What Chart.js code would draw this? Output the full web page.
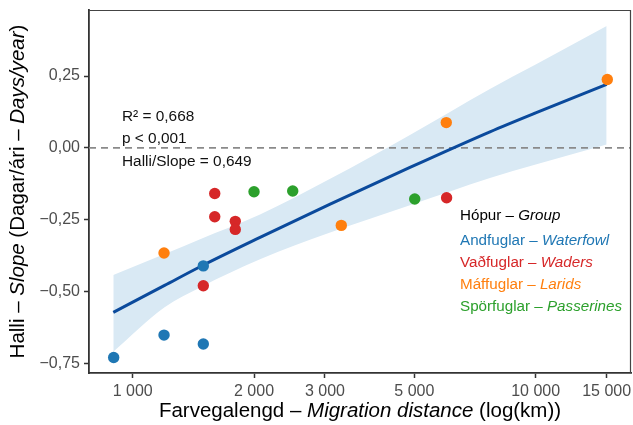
<!DOCTYPE html>
<html>
<head>
<meta charset="utf-8">
<script src="https://cdn.jsdelivr.net/npm/chart.js@4.4.1/dist/chart.umd.min.js"></script>
<style>
  html, body { margin: 0; padding: 0; background: #ffffff; }
  #wrap { width: 633px; height: 425px; }
</style>
</head>
<body>
<div id="wrap"><canvas id="migrationChart" width="633" height="425"></canvas></div>
<script>
// tick positions
const xTicks = [1000, 2000, 3000, 5000, 10000, 15000];
const yTicks = [-0.75, -0.5, -0.25, 0, 0.25];

// species per group: migration distance (km) and slope (days/year)
const waterfowlKm = [897, 1196, 1497, 1497];
const waterfowlSlope = [-0.730, -0.652, -0.683, -0.411];
const wadersKm = [1598, 1598, 1797, 1797, 1497, 6011];
const wadersSlope = [-0.159, -0.240, -0.256, -0.284, -0.480, -0.174];
const laridsKm = [1196, 3293, 6000, 15057];
const laridsSlope = [-0.366, -0.270, 0.088, 0.238];
const passerinesKm = [2000, 2495, 5010];
const passerinesSlope = [-0.153, -0.150, -0.178];

// regression line and confidence band
const fitKm = [895, 1200, 1470, 2070, 3090, 4875, 7700, 10000, 15000];
const fitLine = [-0.573, -0.479, -0.414, -0.312, -0.196, -0.068, 0.056, 0.122, 0.221];
const fitUpper = [-0.443, -0.370, -0.318, -0.232, -0.108, 0.045, 0.205, 0.290, 0.424];
const fitLower = [-0.710, -0.555, -0.486, -0.388, -0.295, -0.200, -0.105, -0.058, 0.012];

const statLines = ['R\u00b2 = 0,668', 'p < 0,001', 'Halli/Slope = 0,649'];

const cBlue = '#1f77b4';
const cRed = '#d62728';
const cOrange = '#ff7f0e';
const cGreen = '#2ca02c';
const fontFamily = '"Liberation Sans", Arial, Helvetica, sans-serif';

const groups = [
    { name: 'Andfuglar', eng: 'Waterfowl', color: cBlue, km: waterfowlKm, slope: waterfowlSlope },
    { name: 'Vaðfuglar', eng: 'Waders', color: cRed, km: wadersKm, slope: wadersSlope },
    { name: 'Máffuglar', eng: 'Larids', color: cOrange, km: laridsKm, slope: laridsSlope },
    { name: 'Spörfuglar', eng: 'Passerines', color: cGreen, km: passerinesKm, slope: passerinesSlope }
];

const xMin = 779, xMax = 17240;
const yMin = -0.784, yMax = 0.48;

function pairs(xs, ys) {
    return xs.map((x, i) => ({ x: x, y: ys[i] }));
}

function fontOf(italic, size) {
    return (italic ? 'italic ' : '') + size + 'px ' + fontFamily;
}

// draws a run of [text, italic] pieces; align 'center' or 'left'
function drawRich(ctx, parts, x, y, size, color, align) {
    let total = 0;
    parts.forEach(p => {
        ctx.font = fontOf(p[1], size);
        total += ctx.measureText(p[0]).width;
    });
    let cx = align === 'center' ? x - total / 2 : x;
    ctx.fillStyle = color;
    ctx.textAlign = 'left';
    ctx.textBaseline = 'middle';
    parts.forEach(p => {
        ctx.font = fontOf(p[1], size);
        ctx.fillText(p[0], cx, y);
        cx += ctx.measureText(p[0]).width;
    });
}

const textPlugin = {
    id: 'textPlugin',
    afterDraw(chart) {
        const ctx = chart.ctx;
        const area = chart.chartArea;
        ctx.save();

        // top and right frame lines
        ctx.strokeStyle = '#444444';
        ctx.lineWidth = 1.2;
        ctx.beginPath();
        ctx.moveTo(area.left, area.top + 0.5);
        ctx.lineTo(area.right - 0.5, area.top + 0.5);
        ctx.lineTo(area.right - 0.5, area.bottom);
        ctx.stroke();

        // axis titles
        drawRich(ctx, [['Farvegalengd \u2013 ', false], ['Migration distance', true], [' (log(km))', false]],
            (area.left + area.right) / 2, 411, 20.5, '#000000', 'center');
        ctx.save();
        ctx.translate(18, (area.top + area.bottom) / 2);
        ctx.rotate(-Math.PI / 2);
        drawRich(ctx, [['Halli \u2013 ', false], ['Slope', true], [' (Dagar/ári \u2013 ', false], ['Days/year', true], [')', false]],
            0, 0, 20.5, '#000000', 'center');
        ctx.restore();

        // regression statistics
        statLines.forEach((t, i) => {
            drawRich(ctx, [[t, false]], 122, 117 + i * 22.2, 15.4, '#111111', 'left');
        });

        // group legend
        drawRich(ctx, [['Hópur \u2013 ', false], ['Group', true]], 460, 216, 15.2, '#000000', 'left');
        groups.forEach((g, i) => {
            drawRich(ctx, [[g.name + ' \u2013 ', false], [g.eng, true]], 460, 240.5 + i * 22.2, 15.2, g.color, 'left');
        });
        ctx.restore();
    }
};

const pointSets = groups.map(g => ({
    label: g.name,
    data: pairs(g.km, g.slope),
    showLine: false,
    pointRadius: 5.7,
    pointHoverRadius: 5.7,
    pointBackgroundColor: g.color,
    pointBorderWidth: 0,
    order: 0
}));

new Chart(document.getElementById('migrationChart'), {
    type: 'line',
    data: {
        datasets: [
            ...pointSets,
            {
                label: 'fit',
                data: pairs(fitKm, fitLine),
                borderColor: '#0b4a9c',
                borderWidth: 3,
                pointRadius: 0,
                cubicInterpolationMode: 'monotone',
                fill: false,
                order: 1
            },
            {
                label: 'zero',
                data: [{ x: xMin, y: 0 }, { x: xMax, y: 0 }],
                borderColor: '#8a8a8a',
                borderWidth: 1.6,
                borderDash: [7, 5],
                pointRadius: 0,
                fill: false,
                order: 2
            },
            {
                label: 'upper',
                data: pairs(fitKm, fitUpper),
                borderWidth: 0,
                borderColor: 'rgba(0,0,0,0)',
                backgroundColor: '#d9e9f4',
                pointRadius: 0,
                cubicInterpolationMode: 'monotone',
                fill: { target: 7 },
                order: 3
            },
            {
                label: 'lower',
                data: pairs(fitKm, fitLower),
                borderWidth: 0,
                borderColor: 'rgba(0,0,0,0)',
                pointRadius: 0,
                cubicInterpolationMode: 'monotone',
                fill: false,
                order: 4
            }
        ]
    },
    options: {
        responsive: false,
        animation: false,
        layout: { autoPadding: false, padding: { left: 0, right: 2, top: 10, bottom: 0 } },
        plugins: {
            legend: { display: false },
            tooltip: { enabled: false }
        },
        scales: {
            x: {
                type: 'logarithmic',
                min: xMin,
                max: xMax,
                afterBuildTicks: scale => { scale.ticks = xTicks.map(v => ({ value: v })); },
                afterFit: scale => {
                    scale.height = 52;
                    scale.paddingLeft = 0;
                    scale.paddingRight = 0;
                },
                border: { display: true, color: '#333333', width: 1.8 },
                grid: { display: true, drawOnChartArea: false, drawTicks: true, tickLength: 5, tickColor: '#333333', tickWidth: 1.5 },
                ticks: {
                    color: '#4d4d4d',
                    font: { family: fontFamily, size: 16 },
                    padding: 4,
                    maxRotation: 0,
                    autoSkip: false,
                    callback: v => String(v).replace(/\B(?=(\d{3})+(?!\d))/g, ' ')
                }
            },
            y: {
                type: 'linear',
                min: yMin,
                max: yMax,
                afterBuildTicks: scale => { scale.ticks = yTicks.map(v => ({ value: v })); },
                afterFit: scale => {
                    scale.width = 89;
                    scale.paddingTop = 0;
                    scale.paddingBottom = 0;
                },
                border: { display: true, color: '#333333', width: 1.8 },
                grid: { display: true, drawOnChartArea: false, drawTicks: true, tickLength: 5, tickColor: '#333333', tickWidth: 1.5 },
                ticks: {
                    color: '#4d4d4d',
                    font: { family: fontFamily, size: 16 },
                    padding: 4,
                    autoSkip: false,
                    callback: v => (v < 0 ? '\u2212' : '') + Math.abs(v).toFixed(2).replace('.', ',')
                }
            }
        }
    },
    plugins: [textPlugin]
});
</script>
</body>
</html>
